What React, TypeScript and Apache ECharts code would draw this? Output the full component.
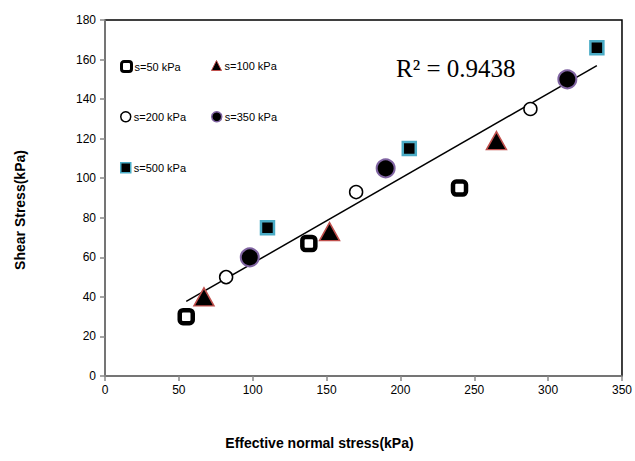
import React, { useEffect, useRef } from "react";
import * as echarts from "echarts";

const s50 = [[55, 30], [138, 67], [240, 95]];
const s100 = [[67, 40], [152, 73], [265, 119]];
const s200 = [[82, 50], [170, 93], [288, 135]];
const s350 = [[98, 60], [190, 105], [313, 150]];
const s500 = [[110, 75], [206, 115], [333, 166]];
const seriesNames = ["s=50 kPa", "s=100 kPa", "s=200 kPa", "s=350 kPa", "s=500 kPa"];
const rSquaredLabel = "R² = 0.9438";

function trend(points: number[][]) {
  const n = points.length;
  let sx = 0, sy = 0, sxx = 0, sxy = 0;
  points.forEach(([x, y]) => { sx += x; sy += y; sxx += x * x; sxy += x * y; });
  const b = (n * sxy - sx * sy) / (n * sxx - sx * sx);
  const a = (sy - b * sx) / n;
  const xs = points.map((p) => p[0]);
  const x0 = Math.min(...xs), x1 = Math.max(...xs);
  return [[x0, a + b * x0], [x1, a + b * x1]];
}

const FONT = "Liberation Sans";

export default function App() {
  const ref = useRef<HTMLDivElement>(null);
  useEffect(() => {
    if (!ref.current) return;
    const chart = echarts.init(ref.current, undefined, { renderer: "svg" });
    const all = [...s50, ...s100, ...s200, ...s350, ...s500];
    const legendPos = [
      { left: 120, top: 60 },
      { left: 211, top: 60 },
      { left: 120, top: 111 },
      { left: 211, top: 111 },
      { left: 120, top: 162 },
    ];
    const legendIconStyles = [
      { borderWidth: 3, opacity: 1 },
      { borderWidth: 1, opacity: 1 },
      { borderWidth: 1.5, opacity: 1 },
      { borderWidth: 1.5, opacity: 1 },
      { borderWidth: 1.5, opacity: 1 },
    ];
    chart.setOption({
      animation: false,
      backgroundColor: "#fff",
      textStyle: { fontFamily: FONT },
      grid: {
        left: 105, right: 13, top: 20, bottom: 85,
        show: true, borderColor: "#000", borderWidth: 1.5, backgroundColor: "#fff",
      },
      legend: seriesNames.map((name, i) => ({
        data: [{ name, itemStyle: legendIconStyles[i] }],
        left: legendPos[i].left,
        top: legendPos[i].top,
        itemWidth: 10,
        itemHeight: 10,
        itemGap: 2,
        padding: 0,
        textStyle: { fontSize: 11, color: "#000", fontFamily: FONT, padding: [0, 0, 0, -2] },
      })),
      xAxis: {
        type: "value", min: 0, max: 350, interval: 50,
        name: "Effective normal stress(kPa)",
        nameLocation: "middle", nameGap: 60,
        nameTextStyle: { fontSize: 14, fontWeight: "bold", color: "#000", padding: [0, 88, 0, 0] },
        axisLine: { show: true, onZero: false, lineStyle: { color: "#888", width: 1.5 } },
        axisTick: { show: true, length: 5, lineStyle: { color: "#888", width: 1.5 } },
        axisLabel: { fontSize: 12, color: "#000", margin: 8 },
        splitLine: { show: false },
      },
      yAxis: {
        type: "value", min: 0, max: 180, interval: 20,
        name: "Shear Stress(kPa)",
        nameLocation: "middle", nameGap: 78,
        nameTextStyle: { fontSize: 14, fontWeight: "bold", color: "#000", padding: [0, 24, 0, 0] },
        axisLine: { show: true, onZero: false, lineStyle: { color: "#888", width: 1.5 } },
        axisTick: { show: true, length: 5, lineStyle: { color: "#888", width: 1.5 } },
        axisLabel: { fontSize: 12, color: "#000", margin: 9 },
        splitLine: { show: false },
      },
      graphic: [
        {
          type: "text", x: 396, y: 68,
          style: {
            text: rSquaredLabel, fontFamily: "Liberation Serif", fontSize: 25,
            fill: "#000", verticalAlign: "middle", align: "left",
          },
        },
      ],
      series: [
        {
          name: "trend", type: "line", data: trend(all), symbol: "none",
          lineStyle: { color: "#000", width: 1.5 }, z: 1, silent: true,
        },
        {
          name: seriesNames[0], type: "scatter", data: s50, symbol: "roundRect", symbolSize: 13,
          itemStyle: { color: "#fff", borderColor: "#000", borderWidth: 4.5, opacity: 1 }, z: 3,
        },
        {
          name: seriesNames[1], type: "scatter", data: s100, symbol: "triangle", symbolSize: [20, 18],
          itemStyle: { color: "#000", borderColor: "#C0504D", borderWidth: 1.5, opacity: 1 }, z: 3,
        },
        {
          name: seriesNames[2], type: "scatter", data: s200, symbol: "circle", symbolSize: 13,
          itemStyle: { color: "#fff", borderColor: "#000", borderWidth: 1.5, opacity: 1 }, z: 3,
        },
        {
          name: seriesNames[3], type: "scatter", data: s350, symbol: "circle", symbolSize: 18,
          itemStyle: { color: "#000", borderColor: "#8064A2", borderWidth: 2, opacity: 1 }, z: 3,
        },
        {
          name: seriesNames[4], type: "scatter", data: s500, symbol: "rect", symbolSize: 13,
          itemStyle: { color: "#000", borderColor: "#4BACC6", borderWidth: 2.5, opacity: 1 }, z: 3,
        },
      ],
    });
    return () => chart.dispose();
  }, []);
  return <div ref={ref} style={{ width: 635, height: 461, position: "absolute", left: 0, top: 0 }} />;
}
